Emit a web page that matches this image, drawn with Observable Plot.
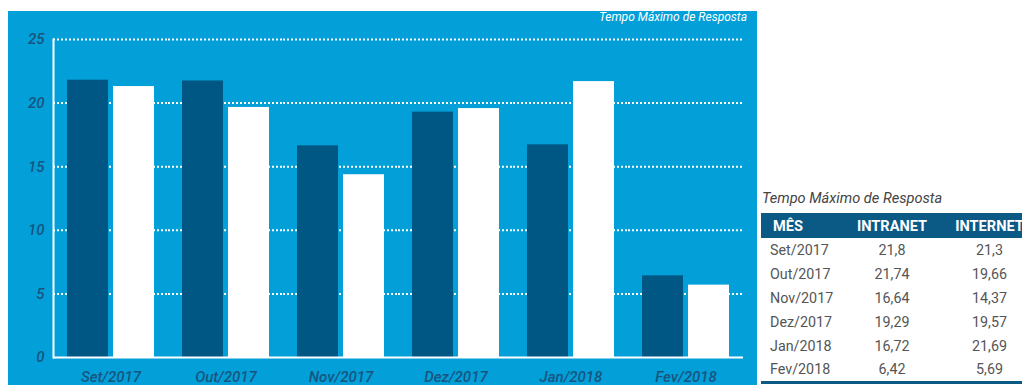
<!DOCTYPE html>
<html>
<head>
<meta charset="utf-8">
<script src="https://cdn.jsdelivr.net/npm/d3@7"></script>
<script src="https://cdn.jsdelivr.net/npm/@observablehq/plot@0.6"></script>
<style>
  html, body { margin: 0; padding: 0; background: #ffffff; overflow: hidden; width: 1022px; height: 385px; }
  body { position: relative; font-family: Roboto, sans-serif; }
  #panel { position: absolute; left: 8px; top: 11px; width: 749px; height: 374px; background: #029fd9; overflow: hidden; }
  #ctitle { position: absolute; right: 10px; top: 0px; font: italic 12px Roboto, sans-serif; color: #ffffff; line-height: 13px; }
  #chart { position: absolute; left: 0; top: 0; }
  #ttitle { position: absolute; left: 762px; top: 189px; font: italic 14.6px Roboto, sans-serif; color: #444444; }
  #tbl { position: absolute; left: 761px; top: 213px; border-collapse: collapse; font-family: Roboto, sans-serif; table-layout: fixed; width: 277px; }
  #tbl th, #tbl td { box-sizing: border-box; white-space: nowrap; }
  #tbl th { background: #0b5a85; color: #ffffff; font-weight: bold; font-size: 14.6px; height: 25px; padding: 0; text-align: center; }
  #tbl td { color: #555555; font-size: 14.3px; height: 24px; padding: 0; text-align: center; }
  #tbl td.m { text-align: left; padding-left: 9px; }
  #tbl th.m { text-align: left; padding-left: 12px; }
  #tbl tbody tr:last-child td { border-bottom: 3px solid #0b5a85; }
</style>
</head>
<body>
<div id="panel">
  <div id="chart"></div>
  <div id="ctitle"></div>
</div>
<div id="ttitle"></div>
<table id="tbl"><colgroup><col style="width:82px"><col style="width:98px"><col style="width:97px"></colgroup><thead></thead><tbody></tbody></table>
<script>
const title = "Tempo Máximo de Resposta";
const months = ["Set/2017", "Out/2017", "Nov/2017", "Dez/2017", "Jan/2018", "Fev/2018"];
const series = ["INTRANET", "INTERNET"];
const intranet = [21.8, 21.74, 16.64, 19.29, 16.72, 6.42];
const internet = [21.3, 19.66, 14.37, 19.57, 21.69, 5.69];
const yTicks = [0, 5, 10, 15, 20, 25];
const gridTicks = [5, 10, 15, 20, 25];
const headers = ["MÊS", "INTRANET", "INTERNET"];
const colors = ["#005784", "#ffffff"];

const data = [];
months.forEach((m, i) => {
  data.push({month: m, serie: series[0], value: intranet[i]});
  data.push({month: m, serie: series[1], value: internet[i]});
});

const chart = Plot.plot({
  width: 749,
  height: 374,
  marginLeft: 42,
  marginRight: 12,
  marginTop: 28,
  marginBottom: 28,
  style: {background: "transparent", fontFamily: "Roboto, sans-serif", fontStyle: "italic", fontWeight: 500, fontSize: "15px", color: "#17557f", overflow: "visible"},
  fx: {domain: months, padding: 0, label: null, tickSize: 0, tickPadding: 14},
  x: {domain: series, paddingInner: 0.107, paddingOuter: 0.3, axis: null},
  y: {domain: [0, 25], ticks: yTicks, tickSize: 0, tickPadding: 9, label: null, tickFormat: d => String(d)},
  color: {domain: series, range: colors},
  marks: [
    Plot.ruleY(gridTicks, {stroke: "#ffffff", strokeWidth: 2, strokeDasharray: "2,2"}),
    Plot.barY(data, {fx: "month", x: "serie", y: "value", fill: "serie", inset: 0}),
    Plot.ruleY([0], {stroke: "#ffffff", strokeWidth: 2}),
    Plot.frame({anchor: "left", facet: "super", stroke: "#ffffff", strokeWidth: 2})
  ]
});
document.getElementById("chart").appendChild(chart);
document.getElementById("ctitle").textContent = title;
document.getElementById("ttitle").textContent = title;

const thead = document.querySelector("#tbl thead");
const hr = document.createElement("tr");
headers.forEach((h, i) => {
  const th = document.createElement("th");
  th.textContent = h;
  if (i === 0) th.className = "m";
  hr.appendChild(th);
});
thead.appendChild(hr);
const fmt = v => String(v).replace(".", ",");
const tbody = document.querySelector("#tbl tbody");
months.forEach((m, i) => {
  const tr = document.createElement("tr");
  [m, fmt(intranet[i]), fmt(internet[i])].forEach((t, j) => {
    const td = document.createElement("td");
    td.textContent = t;
    if (j === 0) td.className = "m";
    tr.appendChild(td);
  });
  tbody.appendChild(tr);
});
</script>
</body>
</html>
